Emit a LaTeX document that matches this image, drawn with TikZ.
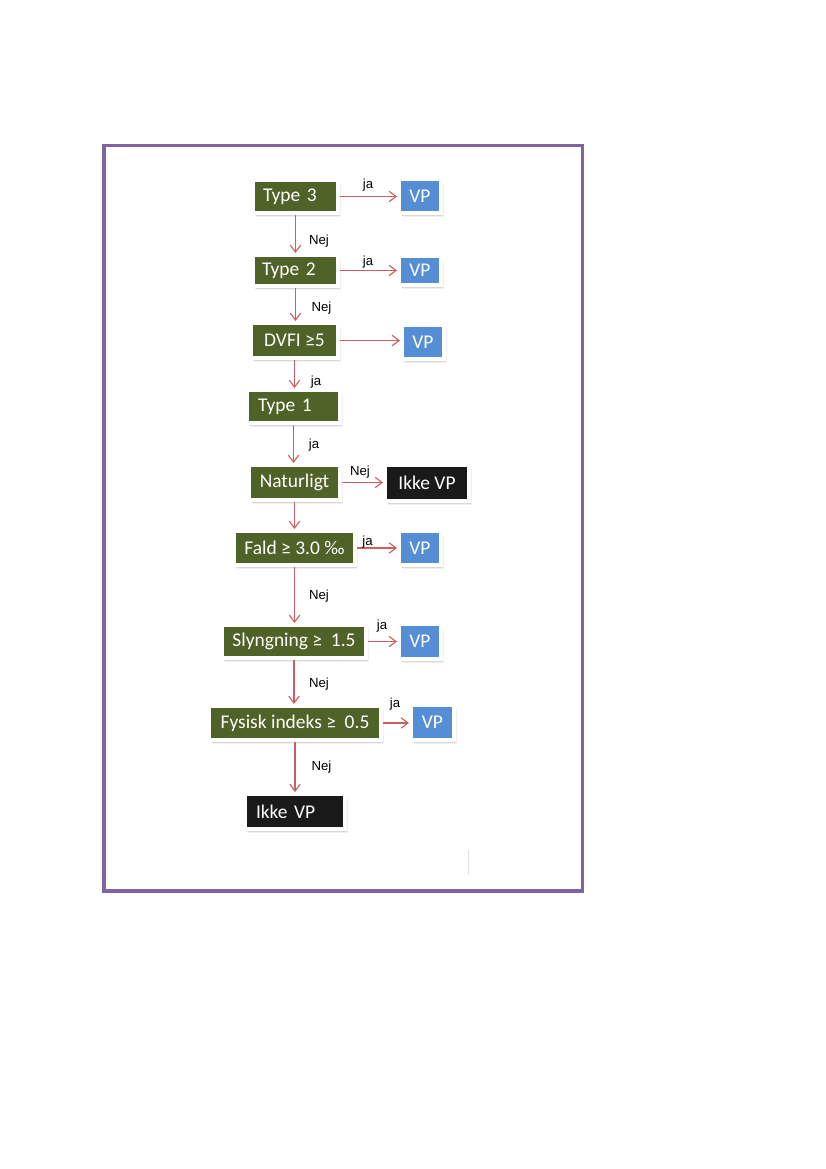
\documentclass[tikz,border=0pt]{standalone}
\usepackage{fontspec}
\setmainfont{Carlito}
\newfontfamily\lblfont{Liberation Sans}
\usetikzlibrary{arrows.meta,shadows}
\definecolor{boxgreen}{HTML}{4F6228}
\definecolor{boxblue}{HTML}{558ED5}
\definecolor{boxblack}{HTML}{1A1A1A}
\definecolor{framepurple}{HTML}{8064A2}
\definecolor{arrowred}{RGB}{205,95,95}
\begin{document}
\begin{tikzpicture}[x=0.72pt,y=-0.72pt,
  box/.style 2 args={draw=white, line width=2.88pt, inner sep=0pt,
    minimum width=#1*0.72pt, minimum height=#2*0.72pt, text=white,
    font=\fontsize{14}{16}\selectfont,
    drop shadow={shadow xshift=2.2pt, shadow yshift=-2.6pt, opacity=0.12},
    drop shadow={shadow xshift=1.5pt, shadow yshift=-1.8pt, opacity=0.2}},
  gbox/.style={fill=boxgreen},
  bbox/.style={fill=boxblue},
  kbox/.style={fill=boxblack},
  conn/.style={draw=arrowred, line width=0.8pt, -{Straight Barb[length=5pt,width=7.5pt]}},
  lbl/.style={font=\lblfont\fontsize{9.5}{11}\selectfont, text=black, inner sep=0pt}]
\useasboundingbox (0,0) rectangle (826,1169);
\draw[framepurple, line width=2.2pt] (104,145.5) rectangle (582.5,891);
\draw[gray!25, line width=0.6pt] (468,850) -- (468,875);

\node[box={85}{33}, gbox, text width=46.8pt, align=left, inner xsep=7.2pt] (t3) at (295.5,196.5) {Type 3};
\node[box={42}{34}, bbox] (vp1) at (420,196) {VP};
\node[box={85}{31}, gbox, text width=48.24pt, align=left, inner xsep=6.48pt] (t2) at (295.5,270.5) {Type 2};
\node[box={42}{29}, bbox] (vp2) at (420,270.5) {VP};
\node[box={87}{35}, gbox] (dvfi) at (294.5,340.5) {DVFI ≥5};
\node[box={42}{34}, bbox] (vp3) at (423,342) {VP};
\node[box={93}{33}, gbox, text width=51.12pt, align=left, inner xsep=7.92pt] (t1) at (293.5,406.5) {Type 1};
\node[box={91}{35}, gbox] (nat) at (294.5,482.5) {Naturligt};
\node[box={84}{36}, kbox] (ik1) at (427,483) {Ikke VP};
\node[box={121}{34}, gbox] (fald) at (294.5,548) {Fald ≥ 3.0 ‰};
\node[box={42}{34}, bbox] (vp4) at (420,548) {VP};
\node[box={144}{33}, gbox] (sly) at (294,641.5) {Slyngning ≥\ \ 1.5};
\node[box={42}{35}, bbox] (vp5) at (420,641.5) {VP};
\node[box={172}{34}, gbox] (fys) at (295,723) {Fysisk indeks ≥\ \ 0.5};
\node[box={43}{35}, bbox] (vp6) at (432.5,722.5) {VP};
\node[box={100}{35}, kbox, text width=56.16pt, align=left, inner xsep=7.92pt] (ik2) at (295,811.5) {Ikke VP};

\draw[conn] (t3.east) -- (t3.east -| vp1.west);
\draw[conn] (t2.east) -- (t2.east -| vp2.west);
\draw[conn] (dvfi.east) -- (dvfi.east -| vp3.west);
\draw[conn] (nat.east) -- (nat.east -| ik1.west);
\draw[conn] (fald.east) -- (fald.east -| vp4.west);
\draw[conn] (sly.east) -- (sly.east -| vp5.west);
\draw[conn] (fys.east) -- (fys.east -| vp6.west);

\draw[conn] (t3.south) -- (t3.south |- t2.north);
\draw[conn] (t2.south) -- (t2.south |- dvfi.north);
\draw[conn] (dvfi.south) -- (dvfi.south |- t1.north);
\draw[conn] (t1.south) -- (t1.south |- nat.north);
\draw[conn] (nat.south) -- (nat.south |- fald.north);
\draw[conn] (fald.south) -- (fald.south |- sly.north);
\draw[conn] (sly.south) -- (sly.south |- fys.north);
\draw[conn] (fys.south) -- (fys.south |- ik2.north);

\node[lbl] (l1) at (368,185) {ja};
\node[lbl] (l2) at (319,241) {Nej};
\node[lbl] (l3) at (368,262) {ja};
\node[lbl] (l4) at (321.5,308) {Nej};
\node[lbl] (l5) at (316,382) {ja};
\node[lbl] (l6) at (314,445) {ja};
\node[lbl] (l7) at (360,472) {Nej};
\node[lbl] (l8) at (367.5,542) {ja};
\node[lbl] (l9) at (319,596) {Nej};
\node[lbl] (l10) at (382,626) {ja};
\node[lbl] (l11) at (319,684) {Nej};
\node[lbl] (l12) at (395,704) {ja};
\node[lbl] (l13) at (321.5,767) {Nej};
\end{tikzpicture}
\end{document}
